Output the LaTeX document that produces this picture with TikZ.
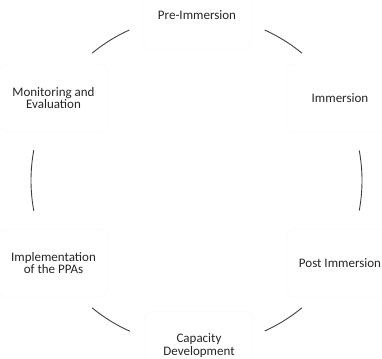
\documentclass[tikz,border=0pt]{standalone}
\usepackage{fontspec}
\setmainfont{Carlito}

\begin{document}
\begin{tikzpicture}[x=1pt,y=1pt]
    \tikzstyle{every node}+=[inner sep=0pt]
    \tikzstyle{stage}=[draw=black!3, fill=white, rounded corners=8pt, minimum width=108pt, minimum height=68pt, align=center, text=black!85, font=\fontsize{13}{12.8}\selectfont]
    \tikzstyle{link}=[draw=black!75, line width=0.9pt]
    \useasboundingbox (0,0) rectangle (382,-358);
    \coordinate (c) at (197,-180.5);
    \node [stage] (pre) at (197,-15.5) {Pre-Immersion};
    \node [stage] (imm) at (340,-98) {Immersion};
    \node [stage] (post) at (340,-263) {Post Immersion};
    \node [stage] (cap) at (199,-345.5) {Capacity\\Development};
    \node [stage] (impl) at (53.5,-263) {Implementation\\of the PPAs};
    \node [stage] (mon) at (53.5,-98) {Monitoring and\\Evaluation};
    \draw [link] (c) ++(50.5:165) arc (50.5:65.8:165);
    \draw [link] (c) ++(-10.5:165) arc (-10.5:10.5:165);
    \draw [link] (c) ++(-65.8:165) arc (-65.8:-50.5:165);
    \draw [link] (c) ++(230.5:165) arc (230.5:246:165);
    \draw [link] (c) ++(169.5:166) arc (169.5:190.5:166);
    \draw [link] (c) ++(114.2:165) arc (114.2:129.5:165);
\end{tikzpicture}
\end{document}
